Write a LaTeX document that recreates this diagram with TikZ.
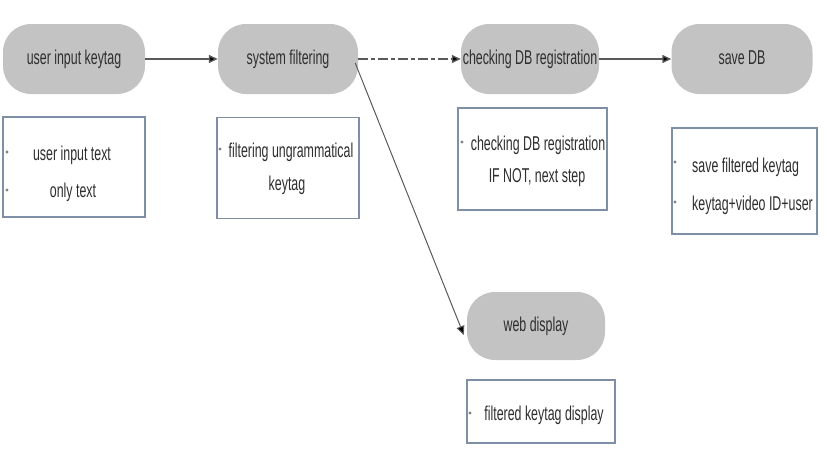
\documentclass[tikz,border=0pt]{standalone}
\usepackage{fontspec}
\setmainfont[FakeStretch=0.62]{Liberation Sans}
\usetikzlibrary{arrows.meta}
\definecolor{pillgray}{HTML}{C3C3C3}
\definecolor{txt}{HTML}{2E2E2E}
\definecolor{boxline}{HTML}{7F8FA6}
\definecolor{lineg}{HTML}{5A5A5A}
\begin{document}
\begin{tikzpicture}[x=1pt,y=-1pt,
  pill/.style={fill=pillgray, draw=none, rounded corners=28pt, minimum width=142pt, minimum height=70pt, text=txt, font=\fontsize{20}{24}\selectfont, inner sep=0pt, text height=14pt, text depth=4pt},
  infobox/.style={draw=boxline, line width=1.8pt, fill=white, inner sep=0pt},
  ln/.style={text=txt, font=\fontsize{20}{24}\selectfont, inner sep=0pt, anchor=base},
  lnl/.style={ln, anchor=base west},
  bul/.style={circle, fill=gray, inner sep=0pt, minimum size=3.2pt},
  flow/.style={draw=lineg, line width=1.4pt, -{Triangle[length=9pt,width=8pt,fill=black]}}
]
\useasboundingbox (0,0) rectangle (827,458);
% pills
\node[pill] (p1) at (74,59) {user input keytag};
\node[pill, minimum width=140pt] (p2) at (288,59) {system filtering};
\node[pill, minimum width=138pt] (p3) at (530,59) {checking DB registration};
\node[pill, minimum width=141pt] (p4) at (742,59) {save DB};
\node[pill, minimum width=138pt, minimum height=68pt] (p5) at (536,326) {web display};
% boxes
\node[infobox, minimum width=142pt, minimum height=100pt] (b1) at (74,167) {};
\node[infobox, minimum width=142pt, minimum height=101pt] (b2) at (288,168) {};
\node[infobox, minimum width=149pt, minimum height=102pt] (b3) at (532.5,159) {};
\node[infobox, minimum width=145pt, minimum height=106pt] (b4) at (744.5,181) {};
\node[infobox, minimum width=148pt, minimum height=63pt] (b5) at (541,411.5) {};
% box texts
\node[bul] (d11) at (7,152) {};
\node[bul] (d12) at (7,190) {};
\node[ln] (t11) at (72,160) {user input text};
\node[ln] (t12) at (73,197) {only text};
\node[bul] (d21) at (220,149) {};
\node[ln] (t21) at (291,157) {filtering ungrammatical};
\node[ln] (t22) at (287,190) {keytag};
\node[bul] (d31) at (462,142) {};
\node[ln] (t31) at (538,150) {checking DB registration};
\node[ln] (t32) at (537,182) {IF NOT, next step};
\node[bul] (d41) at (675,162) {};
\node[bul] (d42) at (675,202) {};
\node[lnl] (t41) at (692,172) {save filtered keytag};
\node[lnl] (t42) at (692,210) {keytag+video ID+user};
\node[bul] (d51) at (470,413) {};
\node[ln] (t51) at (544,420) {filtered keytag display};
% connectors
\draw[flow] (p1.east) -- (p2.west);
\draw[flow, dash pattern=on 10pt off 3pt on 4pt off 3pt] (p2.east) -- (p3.west);
\draw[flow] (p3.east) -- (p4.west);
\draw[flow, line width=1pt] ([xshift=-3pt,yshift=-4pt]p2.east) -- ([xshift=-3pt,yshift=-9pt]p5.west);
\end{tikzpicture}
\end{document}
